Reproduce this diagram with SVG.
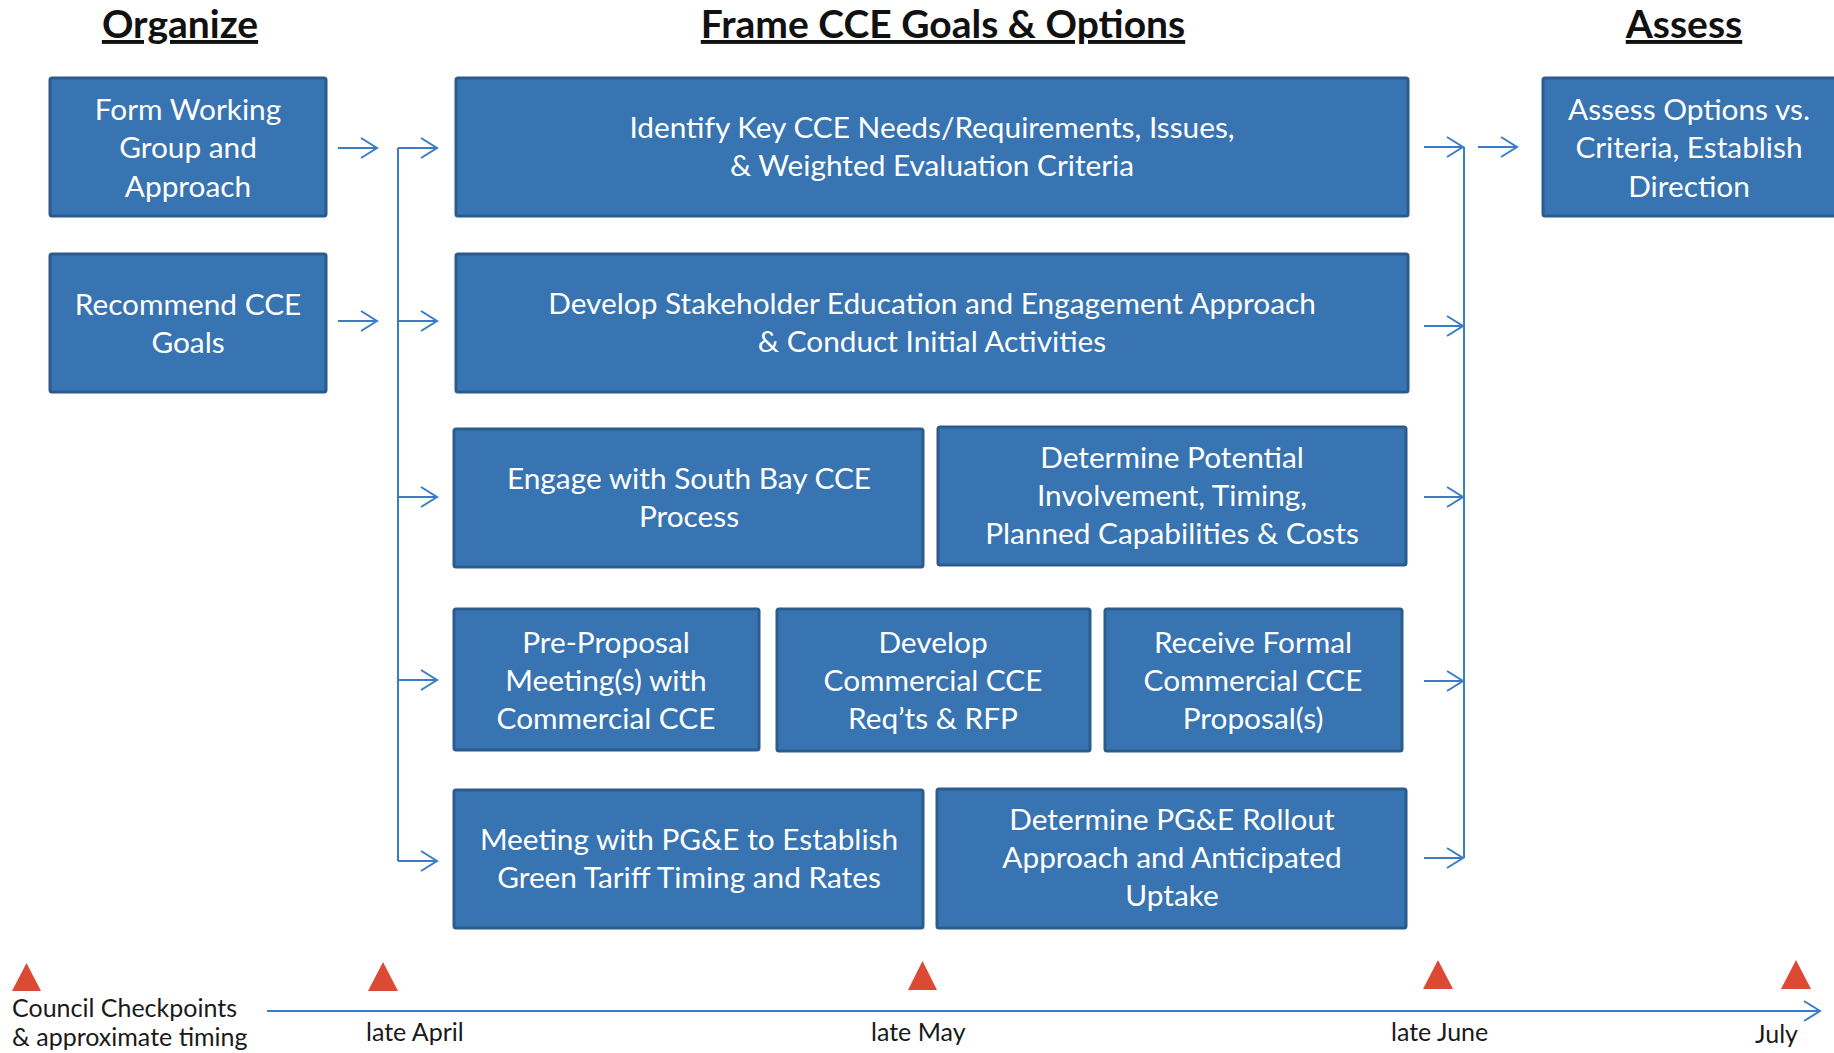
<svg xmlns="http://www.w3.org/2000/svg" width="1834" height="1053" viewBox="0 0 1834 1053">
<style>
.box{fill:#3874b2;stroke:#2b5c8e;stroke-width:3}
.bt{font-family:Lato,"Liberation Sans",sans-serif;font-size:29.8px;fill:#ffffff;text-anchor:middle}
.title{font-family:Lato,"Liberation Sans",sans-serif;font-size:39px;font-weight:bold;fill:#111;text-anchor:middle;text-decoration:underline}
.lab{font-family:Lato,"Liberation Sans",sans-serif;font-size:25px;fill:#1a1a1a}
.con{stroke:#3a7cc6;stroke-width:2;fill:none}
.tri{fill:#dc4a35}
</style>
<defs>
<marker id="chev" markerUnits="userSpaceOnUse" markerWidth="20" markerHeight="24" refX="17" refY="12" orient="auto">
<path d="M1,2 L17,12 L1,22" fill="none" stroke="#3a7cc6" stroke-width="2"/>
</marker>
</defs>
<rect width="1834" height="1053" fill="#ffffff"/>

<g id="titles">
<text class="title" x="180" y="38">Organize</text>
<text class="title" x="943" y="38">Frame CCE Goals &amp; Options</text>
<text class="title" x="1684" y="38">Assess</text>
</g>

<g id="connectors">
<path class="con" d="M338,148 H377" marker-end="url(#chev)"/>
<path class="con" d="M338,321 H377" marker-end="url(#chev)"/>
<path class="con" d="M398,148 V861"/>
<path class="con" d="M398,148 H437" marker-end="url(#chev)"/>
<path class="con" d="M398,321 H437" marker-end="url(#chev)"/>
<path class="con" d="M398,497 H437" marker-end="url(#chev)"/>
<path class="con" d="M398,680 H437" marker-end="url(#chev)"/>
<path class="con" d="M398,861 H437" marker-end="url(#chev)"/>
<path class="con" d="M1424,147 H1463" marker-end="url(#chev)"/>
<path class="con" d="M1424,326 H1463" marker-end="url(#chev)"/>
<path class="con" d="M1424,497 H1463" marker-end="url(#chev)"/>
<path class="con" d="M1424,681 H1463" marker-end="url(#chev)"/>
<path class="con" d="M1424,858 H1463" marker-end="url(#chev)"/>
<path class="con" d="M1464,147 V858"/>
<path class="con" d="M1478,147 H1517" marker-end="url(#chev)"/>
<path class="con" d="M267,1011 H1820" marker-end="url(#chev)"/>
</g>

<g id="n1"><rect class="box" x="50" y="78" width="276" height="138" rx="2"/>
<text class="bt" x="188" y="120">Form Working</text><text class="bt" x="188" y="158">Group and</text><text class="bt" x="188" y="197">Approach</text></g>

<g id="n2"><rect class="box" x="50" y="254" width="276" height="138" rx="2"/>
<text class="bt" x="188" y="315">Recommend CCE</text><text class="bt" x="188" y="353">Goals</text></g>

<g id="n3"><rect class="box" x="456" y="78" width="952" height="138" rx="2"/>
<text class="bt" x="932" y="138">Identify Key CCE Needs/Requirements, Issues,</text><text class="bt" x="932" y="176">&amp; Weighted Evaluation Criteria</text></g>

<g id="n4"><rect class="box" x="456" y="254" width="952" height="138" rx="2"/>
<text class="bt" x="932" y="314">Develop Stakeholder Education and Engagement Approach</text><text class="bt" x="932" y="352">&amp; Conduct Initial Activities</text></g>

<g id="n5"><rect class="box" x="454" y="429" width="469" height="138" rx="2"/>
<text class="bt" x="689" y="489">Engage with South Bay CCE</text><text class="bt" x="689" y="527">Process</text></g>

<g id="n6"><rect class="box" x="938" y="427" width="468" height="138" rx="2"/>
<text class="bt" x="1172" y="468">Determine Potential</text><text class="bt" x="1172" y="506">Involvement, Timing,</text><text class="bt" x="1172" y="544">Planned Capabilities &amp; Costs</text></g>

<g id="n7"><rect class="box" x="454" y="609" width="305" height="141" rx="2"/>
<text class="bt" x="606" y="653">Pre-Proposal</text><text class="bt" x="606" y="691">Meeting(s) with</text><text class="bt" x="606" y="729">Commercial CCE</text></g>

<g id="n8"><rect class="box" x="777" y="609" width="313" height="142" rx="2"/>
<text class="bt" x="933" y="653">Develop</text><text class="bt" x="933" y="691">Commercial CCE</text><text class="bt" x="933" y="729">Req’ts &amp; RFP</text></g>

<g id="n9"><rect class="box" x="1105" y="609" width="297" height="142" rx="2"/>
<text class="bt" x="1253" y="653">Receive Formal</text><text class="bt" x="1253" y="691">Commercial CCE</text><text class="bt" x="1253" y="729">Proposal(s)</text></g>

<g id="n10"><rect class="box" x="454" y="790" width="469" height="138" rx="2"/>
<text class="bt" x="689" y="850">Meeting with PG&amp;E to Establish</text><text class="bt" x="689" y="888">Green Tariff Timing and Rates</text></g>

<g id="n11"><rect class="box" x="937" y="789" width="469" height="139" rx="2"/>
<text class="bt" x="1172" y="830">Determine PG&amp;E Rollout</text><text class="bt" x="1172" y="868">Approach and Anticipated</text><text class="bt" x="1172" y="906">Uptake</text></g>

<g id="n12"><rect class="box" x="1543" y="78" width="300" height="138" rx="2"/>
<text class="bt" x="1689" y="120">Assess Options vs.</text><text class="bt" x="1689" y="158">Criteria, Establish</text><text class="bt" x="1689" y="197">Direction</text></g>

<g id="timeline">
<polygon class="tri" points="12,991 26.5,963 41,991"/>
<polygon class="tri" points="368,991 383,962 398,991"/>
<polygon class="tri" points="908,990 922.5,961 937,990"/>
<polygon class="tri" points="1423,989 1438,960 1453,989"/>
<polygon class="tri" points="1781,989 1796,960 1811,989"/>
<text class="lab" x="12" y="1017">Council Checkpoints</text>
<text class="lab" x="12" y="1046">&amp; approximate timing</text>
<text class="lab" x="366" y="1041">late April</text>
<text class="lab" x="871" y="1041">late May</text>
<text class="lab" x="1391" y="1041">late June</text>
<text class="lab" x="1755" y="1043">July</text>
</g>
</svg>
